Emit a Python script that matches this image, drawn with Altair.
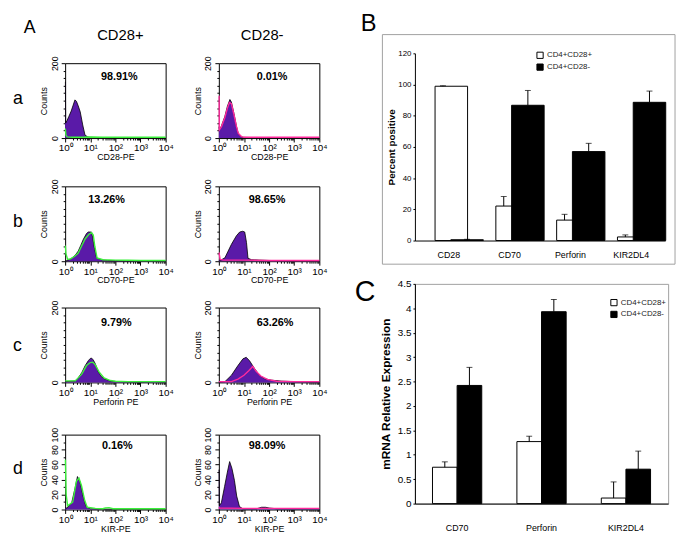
import altair as alt
import pandas as pd
import numpy as np

FONT = "Liberation Sans"
PURPLE = "#5a1aa8"
GREEN = "#3cf03c"
MAGENTA = "#ff2a9d"

# ---------------- Panel A: flow histograms (x in log10 units, counts) ----------------
A_PLUS_FILL_X = [0, 0.01, 0.02, 0.07, 0.15, 0.24, 0.32, 0.39, 0.45, 0.52, 0.6, 0.7, 0.79, 0.9, 1.0, 1.3, 1.7, 2.0, 2.5, 3.0, 3.5, 4.0]
A_PLUS_FILL_Y = [150, 150, 40, 46, 58, 72, 88, 102, 98, 86, 70, 35, 8, 3, 2, 1.5, 1.5, 1, 1, 1, 1, 1]
A_PLUS_CTRL_X = [0, 0.01, 0.03, 0.08, 0.3, 0.7, 1.0, 1.5, 2.0, 2.5, 3.0, 3.5, 4.0]
A_PLUS_CTRL_Y = [25, 24, 8, 3, 2, 2, 3, 2, 2, 2, 2, 2, 2]

A_MINUS_FILL_X = [0, 0.01, 0.02, 0.1, 0.24, 0.34, 0.44, 0.5, 0.6, 0.7, 0.77, 0.9, 1.0, 1.5, 2.0, 2.5, 3.0, 3.5, 4.0]
A_MINUS_FILL_Y = [30, 30, 22, 32, 58, 85, 103, 96, 66, 32, 13, 3, 2, 1, 1, 1, 1, 1, 1]
A_MINUS_CTRL_X = [0, 0.01, 0.02, 0.1, 0.24, 0.34, 0.42, 0.5, 0.6, 0.7, 0.77, 0.9, 1.0, 1.5, 2.0, 2.5, 3.0, 3.5, 4.0]
A_MINUS_CTRL_Y = [112, 112, 22, 30, 55, 80, 95, 92, 63, 31, 13, 4, 2, 2, 2, 2, 2, 2, 2]

B_PLUS_FILL_X = [0, 0.2, 0.39, 0.52, 0.62, 0.72, 0.85, 0.92, 1.05, 1.1, 1.15, 1.25, 1.44, 1.7, 2.0, 2.5, 3.0, 3.5, 4.0]
B_PLUS_FILL_Y = [0, 5, 15, 27, 42, 58, 74, 78, 78, 62, 40, 9, 4, 2, 1.5, 1, 1, 1, 1]
B_PLUS_CTRL_X = [0, 0.01, 0.03, 0.1, 0.2, 0.39, 0.52, 0.65, 0.8, 0.95, 1.05, 1.12, 1.18, 1.27, 1.5, 2.0, 2.5, 3.0, 4.0]
B_PLUS_CTRL_Y = [40, 40, 20, 5, 6, 14, 22, 40, 60, 72, 76, 70, 40, 9, 4, 3, 2.5, 2, 2]

B_MINUS_FILL_X = [0, 0.08, 0.24, 0.5, 0.7, 0.83, 0.95, 1.03, 1.1, 1.16, 1.3, 1.6, 2.0, 2.5, 3.0, 4.0]
B_MINUS_FILL_Y = [3, 3, 9, 45, 68, 78, 80, 78, 50, 8, 4, 3, 2, 1.5, 1, 1]
B_MINUS_CTRL_X = [0, 0.01, 0.05, 0.2, 1.0, 2.0, 3.0, 4.0]
B_MINUS_CTRL_Y = [22, 22, 5, 3, 3, 2, 2, 2]

C_PLUS_FILL_X = [0, 0.39, 0.5, 0.66, 0.8, 0.92, 1.0, 1.05, 1.12, 1.2, 1.32, 1.45, 1.58, 1.84, 2.2, 2.5, 3.0, 3.6, 4.0]
C_PLUS_FILL_Y = [2, 4, 10, 26, 45, 58, 64, 65, 60, 50, 28, 15, 9, 3, 2, 1.5, 1, 2, 1]
C_PLUS_CTRL_X = [0, 0.4, 0.66, 0.85, 1.0, 1.1, 1.2, 1.35, 1.55, 1.8, 2.0, 2.5, 3.0, 4.0]
C_PLUS_CTRL_Y = [4, 4, 22, 45, 53, 54, 47, 28, 12, 5, 3, 2, 2, 2]

C_MINUS_FILL_X = [0, 0.24, 0.5, 0.76, 0.96, 1.09, 1.22, 1.42, 1.62, 1.82, 2.09, 2.48, 3.0, 3.5, 4.0]
C_MINUS_FILL_Y = [1, 2, 19, 45, 63, 67, 58, 37, 19, 10, 6, 3.5, 2, 1.5, 1]
C_MINUS_CTRL_X = [0, 0.5, 0.76, 1.0, 1.2, 1.3, 1.35, 1.48, 1.67, 1.93, 2.3, 3.0, 4.0]
C_MINUS_CTRL_Y = [2, 2, 9, 19, 32, 39, 43, 30, 17, 8, 3, 2, 2]

D_PLUS_FILL_X = [0, 0.07, 0.26, 0.39, 0.49, 0.59, 0.72, 0.83, 1.0, 1.5, 2.0, 3.0, 4.0]
D_PLUS_FILL_Y = [2, 2, 9, 28, 44, 37, 17, 4, 1, 0.5, 0.5, 0.5, 0.5]
D_PLUS_CTRL_X = [0, 0.01, 0.04, 0.1, 0.3, 0.45, 0.55, 0.65, 0.78, 0.88, 1.2, 1.5, 1.6, 1.75, 1.9, 2.5, 3.0, 4.0]
D_PLUS_CTRL_Y = [66, 66, 20, 5, 10, 38, 42, 32, 12, 3, 1.5, 1, 2, 2.5, 1, 1, 1, 1]

D_MINUS_FILL_X = [0, 0.01, 0.02, 0.1, 0.23, 0.34, 0.43, 0.52, 0.62, 0.71, 0.82, 0.95, 1.5, 1.7, 1.86, 2.0, 2.3, 3.0, 4.0]
D_MINUS_FILL_Y = [53, 53, 5, 9, 31, 50, 64, 55, 39, 18, 4, 1, 1, 3, 3, 2, 1, 1, 1]
D_MINUS_CTRL_X = [0, 0.02, 1.0, 2.0, 3.0, 4.0]
D_MINUS_CTRL_Y = [3, 2, 1.5, 1.5, 1.5, 1.5]

PCT_PLUS = ["98.91%", "13.26%", "9.79%", "0.16%"]
PCT_MINUS = ["0.01%", "98.65%", "63.26%", "98.09%"]
X_TITLES = ["CD28-PE", "CD70-PE", "Perforin PE", "KIR-PE"]
ROW_LABELS = ["a", "b", "c", "d"]
Y_MAX = [200, 200, 200, 100]

# ---------------- Panel B / C: bars ----------------
SERIES = ["CD4+CD28+", "CD4+CD28-"]
B_CATS = ["CD28", "CD70", "Perforin", "KIR2DL4"]
B_PLUS = [98.9, 22.1, 13.1, 2.3]
B_PLUS_ERR = [0.3, 6.1, 3.7, 1.3]
B_MINUS = [0.5, 86.7, 57.0, 88.6]
B_MINUS_ERR = [0.3, 9.5, 5.3, 7.2]

C_CATS = ["CD70", "Perforin", "KIR2DL4"]
C_PLUS = [0.745, 1.27, 0.114]
C_PLUS_ERR = [0.11, 0.11, 0.33]
C_MINUS = [2.42, 3.93, 0.705]
C_MINUS_ERR = [0.37, 0.25, 0.37]

HW, HH = 102, 76
X_TICKS = [m * 10 ** d for d in range(4) for m in range(1, 10)] + [10000]
X_LABEL_EXPR = ("datum.value == 1 ? '10⁰' : datum.value == 10 ? '10¹' : datum.value == 100 ? '10²' : "
                "datum.value == 1000 ? '10³' : datum.value == 10000 ? '10⁴' : ''")
X_MAJOR = "indexof([1, 10, 100, 1000, 10000], datum.value) >= 0"
EXTRA_TOP = 20   # extra invisible room above the top panels, removed again by the negative top padding

one = pd.DataFrame({"k": [0]})


def txt(text, x, y, size, weight="normal", align="left", baseline="alphabetic", color="black"):
    return alt.Chart(pd.DataFrame({"t": [text]})).mark_text(
        fontSize=size, fontWeight=weight, align=align, baseline=baseline, color=color, font=FONT
    ).encode(x=alt.value(x), y=alt.value(y), text="t:N")


def anchors(x0, y0, x1, y1):
    # invisible corner marks that fix the layout box of a panel
    a = alt.Chart(one).mark_square(size=1, opacity=0).encode(x=alt.value(x0 + 0.5), y=alt.value(y0 + 0.5))
    b = alt.Chart(one).mark_square(size=1, opacity=0).encode(x=alt.value(x1 - 0.5), y=alt.value(y1 - 0.5))
    return [a, b]


def hist(fx, fy, cx, cy, ccolor, ymax, pct, pct_xy, xtitle, extras):
    fdf = pd.DataFrame({"v": np.power(10.0, fx), "c": fy})
    cdf = pd.DataFrame({"v": np.power(10.0, cx), "c": cy})
    xs = alt.Scale(type="log", domain=[1, 10000])
    ys = alt.Scale(domain=[0, ymax], clamp=True)
    if ymax == 200:
        yvals = list(range(0, 201, 20))
        ytest = "datum.value == 0 || datum.value == 200"
    else:
        yvals = list(range(0, 101, 10))
        ytest = "datum.value % 20 == 0"
    xaxis = alt.Axis(values=X_TICKS, labelExpr=X_LABEL_EXPR, labelFlush=False, labelOverlap=False,
                     tickSize={"condition": {"test": X_MAJOR, "value": 4}, "value": 2},
                     domain=False, grid=False, labelFontSize=10, labelPadding=1,
                     title=xtitle, titleFontSize=9, titleFontWeight="normal", titlePadding=0)
    yaxis = alt.Axis(values=yvals, labelExpr=f"({ytest}) ? datum.label : ''", labelOverlap=False,
                     tickSize={"condition": {"test": ytest, "value": 4}, "value": 2},
                     labelAngle=270, labelAlign="center", labelBaseline="bottom", labelFontSize=9,
                     labelPadding=2, domain=False, grid=False, labelFlush=False,
                     title="Counts", titleFontSize=9, titleFontWeight="normal", titlePadding=2)
    area = alt.Chart(fdf).mark_area(color=PURPLE, opacity=1,
                                    line={"color": "black", "strokeWidth": 0.8}).encode(
        x=alt.X("v:Q", scale=xs, axis=xaxis), y=alt.Y("c:Q", scale=ys, axis=yaxis))
    ctrl = alt.Chart(cdf).mark_line(color=ccolor, strokeWidth=1.4).encode(
        x=alt.X("v:Q", scale=xs, axis=xaxis), y=alt.Y("c:Q", scale=ys, axis=yaxis))
    ptxt = txt(pct, pct_xy[0], pct_xy[1], 11, weight="bold", align="center")
    layers = [area, ctrl, ptxt] + extras
    return alt.layer(*layers).properties(width=HW, height=HH,
                                         view=alt.ViewBackground(stroke="black", strokeWidth=1))


PLUS_DATA = [(A_PLUS_FILL_X, A_PLUS_FILL_Y, A_PLUS_CTRL_X, A_PLUS_CTRL_Y),
             (B_PLUS_FILL_X, B_PLUS_FILL_Y, B_PLUS_CTRL_X, B_PLUS_CTRL_Y),
             (C_PLUS_FILL_X, C_PLUS_FILL_Y, C_PLUS_CTRL_X, C_PLUS_CTRL_Y),
             (D_PLUS_FILL_X, D_PLUS_FILL_Y, D_PLUS_CTRL_X, D_PLUS_CTRL_Y)]
MINUS_DATA = [(A_MINUS_FILL_X, A_MINUS_FILL_Y, A_MINUS_CTRL_X, A_MINUS_CTRL_Y),
              (B_MINUS_FILL_X, B_MINUS_FILL_Y, B_MINUS_CTRL_X, B_MINUS_CTRL_Y),
              (C_MINUS_FILL_X, C_MINUS_FILL_Y, C_MINUS_CTRL_X, C_MINUS_CTRL_Y),
              (D_MINUS_FILL_X, D_MINUS_FILL_Y, D_MINUS_CTRL_X, D_MINUS_CTRL_Y)]
PCT_PLUS_XY = [(55, 17), (42, 17), (52, 19), (53, 15)]
PCT_MINUS_XY = [(54, 17), (49, 17), (57, 19), (49, 15)]
ROW_LABEL_Y = [41, 41, 44, 40]
ROW_TOP = [51 + EXTRA_TOP, 17, 15, 21]     # layout box above each row of plots
ROW_BOTTOM = 30                            # layout box below each row of plots
ML_PLUS, MR_PLUS = 57, 12
ML_MINUS, MR_MINUS = 40, 12

rows = []
for i in range(4):
    extras_p = [txt(ROW_LABELS[i], -53, ROW_LABEL_Y[i], 18)]
    extras_m = []
    if i == 0:
        extras_p += [txt("A", -42, -31, 18), txt("CD28+", 56, -24, 15, align="center")]
        extras_m += [txt("CD28-", 44, -24, 15, align="center")]
    extras_p += anchors(-ML_PLUS, -ROW_TOP[i], HW + MR_PLUS, HH + ROW_BOTTOM)
    extras_m += anchors(-ML_MINUS, -ROW_TOP[i], HW + MR_MINUS, HH + ROW_BOTTOM)
    p = hist(*PLUS_DATA[i], GREEN, Y_MAX[i], PCT_PLUS[i], PCT_PLUS_XY[i], X_TITLES[i], extras_p)
    m = hist(*MINUS_DATA[i], MAGENTA, Y_MAX[i], PCT_MINUS[i], PCT_MINUS_XY[i], X_TITLES[i], extras_m)
    rows.append(alt.hconcat(p, m, spacing=0))

left = alt.vconcat(*rows, spacing=0)


def bar_panel(cats, plus, plus_err, minus, minus_err, ymax, ystep, yrange, ytitle, ytfs, ytpad, w, h,
              pad_outer, bar_w, offs, err_offs, cap_w, legend_xy, lfs, lab_fs, lab_pad, ylab_fs, extras, view):
    dfs = []
    for s, vals, errs in ((SERIES[0], plus, plus_err), (SERIES[1], minus, minus_err)):
        d = pd.DataFrame({"cat": cats, "series": s, "val": vals, "err": errs})
        d["top"] = d["val"] + d["err"]
        dfs.append(d)
    xsc = alt.Scale(paddingInner=0, paddingOuter=pad_outer)
    xax = alt.Axis(title=None, labelAngle=0, ticks=False, labelFontSize=lab_fs, labelPadding=lab_pad,
                   domainColor="black", labelColor="black")
    x = alt.X("cat:N", sort=cats, scale=xsc, axis=xax)
    ysc = alt.Scale(domain=[0, ymax], range=yrange, nice=False)
    yvals = [round(k * ystep, 3) for k in range(int(round(ymax / ystep)) + 1)]
    yax = alt.Axis(values=yvals, format="~r", tickSize=2, labelFontSize=ylab_fs, labelPadding=2, grid=False,
                   domainColor="black", tickColor="black", labelColor="black",
                   title=ytitle, titleFontSize=ytfs, titleFontWeight="bold", titlePadding=ytpad)
    y = alt.Y("val:Q", scale=ysc, axis=yax)
    fill = alt.Fill("series:N", sort=SERIES,
                    scale=alt.Scale(domain=SERIES, range=["white", "black"]),
                    legend=alt.Legend(title=None, orient="none", legendX=legend_xy[0], legendY=legend_xy[1],
                                      symbolType="square", symbolSize=40, symbolStrokeColor="black",
                                      symbolStrokeWidth=1, labelFontSize=lfs, labelColor="#222",
                                      rowPadding=0, labelOffset=3))
    layers = list(extras)
    for k in range(2):
        layers.append(alt.Chart(dfs[k]).mark_bar(stroke="black", strokeWidth=1, width=bar_w, xOffset=offs[k]).encode(
            x=x, y=y, fill=fill))
    for k in range(2):
        layers.append(alt.Chart(dfs[k]).mark_rule(color="black", strokeWidth=1, xOffset=err_offs[k]).encode(
            x=x, y=y, y2="top:Q"))
        layers.append(alt.Chart(dfs[k]).mark_tick(color="black", thickness=1, size=cap_w, xOffset=err_offs[k]).encode(
            x=x, y=alt.Y("top:Q", scale=ysc, axis=yax)))
    return alt.layer(*layers).properties(width=w, height=h, view=view)


BW, BH = 254, 180     # B: plot origin sits level with row a; the scale range reaches 10px above it
CW, CH = 257, 223
frame_b = alt.Chart(one).mark_rect(fillOpacity=0, stroke="#a0a0a0", strokeWidth=1).encode(
    x=alt.value(-33), x2=alt.value(264), y=alt.value(-29), y2=alt.value(204))
panel_b = bar_panel(B_CATS, B_PLUS, B_PLUS_ERR, B_MINUS, B_MINUS_ERR, 120, 20, [BH, -10],
                    "Percent positive", 10, 1, BW, BH,
                    0.058, 33, (2.5, 18.5), (-6, 18.5), 6, (123, -12), 8, 9, 10, 8,
                    [frame_b, txt("B", -55, -33, 24)] + anchors(-61, -55, BW + 12, 204),
                    alt.ViewBackground(strokeWidth=0))
panel_c = bar_panel(C_CATS, C_PLUS, C_PLUS_ERR, C_MINUS, C_MINUS_ERR, 4.5, 0.5, [CH, 0],
                    "mRNA Relative Expression", 12, 5, CW, CH,
                    0, 25, (-12.5, 12.5), (-12.5, 12.5), 6, (198, 15), 8, 9, 20, 10,
                    [txt("C", -61, 17, 29)] + anchors(-61, -18, CW + 4, CH + 32),
                    alt.ViewBackground(stroke="#a0a0a0", strokeWidth=1))
right = alt.vconcat(panel_b, panel_c, spacing=0).resolve_scale(fill="independent", x="independent")

chart = alt.hconcat(left, right, spacing=22).properties(
    padding={"left": 0, "top": -EXTRA_TOP, "right": 0, "bottom": 0}
).configure(
    font=FONT
).configure_view(strokeWidth=0).configure_axis(
    labelColor="black", titleColor="black", tickColor="black", domainColor="black", grid=False,
    labelFont=FONT, titleFont=FONT
).configure_legend(labelFont=FONT)

chart.save("out.html", embed_options={"renderer": "svg", "actions": False})
